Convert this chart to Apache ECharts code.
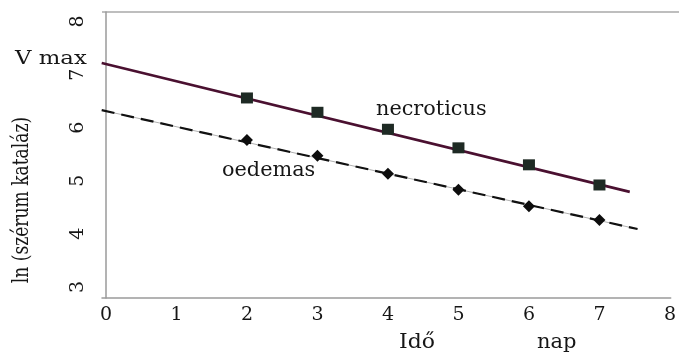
<!DOCTYPE html>
<html>
<head>
<meta charset="utf-8">
<script src="https://cdn.jsdelivr.net/npm/echarts@6/dist/echarts.min.js"></script>
<style>
  html, body { margin: 0; padding: 0; background: #fff; }
  #chart { width: 679px; height: 352px; }
</style>
</head>
<body>
<div id="chart"></div>
<script>
// Measurement days
const days = [2, 3, 4, 5, 6, 7];
// ln(serum catalase) values per group
const necroticus = [6.56, 6.29, 5.97, 5.62, 5.30, 4.92];
const oedemas = [5.77, 5.47, 5.13, 4.83, 4.52, 4.26];
// Fitted regression lines (start and end points, day / ln value)
const necroticusFitX = [-0.06, 7.43];
const necroticusFitY = [7.22, 4.79];
const oedemasFitX = [-0.06, 7.54];
const oedemasFitY = [6.33, 4.09];
// Tick labels
const xTicks = [0, 1, 2, 3, 4, 5, 6, 7, 8];
const yTicks = [3, 4, 5, 6, 7, 8];

const serif = 'DejaVu Serif';
const ink = '#161616';
const chart = echarts.init(document.getElementById('chart'), null, { renderer: 'canvas' });

const pairs = (xs, ys) => xs.map((x, i) => [x, ys[i]]);

// Free-standing text labels (slightly widened serif lettering)
function label(text, x, y, size, sx) {
  return {
    type: 'text', x: x, y: y, scaleX: sx || 1,
    style: { text: text, font: size + 'px "DejaVu Serif"', fill: ink, verticalAlign: 'top' }
  };
}

chart.setOption({
  animation: false,
  backgroundColor: '#ffffff',
  grid: { left: 102, right: 0, top: 12, bottom: 54, show: false },
  xAxis: {
    type: 'value',
    min: -0.056,
    max: 8.01,
    axisLine: { show: true, lineStyle: { color: '#9a9a9a', width: 1.5 } },
    axisTick: { show: false },
    splitLine: { show: false },
    axisLabel: {
      customValues: xTicks,
      color: ink,
      fontFamily: serif,
      fontSize: 19,
      margin: 8
    }
  },
  yAxis: {
    type: 'value',
    min: 2.79,
    max: 8.18,
    axisLine: { show: true, lineStyle: { color: '#9a9a9a', width: 1.5 } },
    axisTick: { show: false },
    splitLine: { show: false },
    axisLabel: {
      customValues: yTicks,
      rotate: 90,
      color: ink,
      fontFamily: serif,
      fontSize: 19,
      margin: 14
    }
  },
  graphic: [
    { type: 'line', shape: { x1: 102, y1: 12, x2: 679, y2: 12 }, style: { stroke: '#a8a8a8', lineWidth: 1.5 } },
    label('V max', 15, 50, 19, 1.2),
    label('necroticus', 376, 100, 20, 1.04),
    label('oedemas', 222, 161, 20, 1.04),
    label('Idő', 399, 333, 20, 1.1),
    label('nap', 537, 333, 20, 1.05),
    {
      type: 'text', x: 22, y: 200, rotation: Math.PI / 2, scaleX: 0.9, scaleY: 1.2,
      style: { text: 'ln (szérum kataláz)', font: '19px "DejaVu Serif"', fill: ink, align: 'center', verticalAlign: 'middle' }
    }
  ],
  series: [
    {
      name: 'necroticus fit',
      type: 'line',
      data: pairs(necroticusFitX, necroticusFitY),
      symbol: 'none',
      lineStyle: { color: '#4a1030', width: 2.6 },
      z: 2
    },
    {
      name: 'oedemas fit base',
      type: 'line',
      data: pairs(oedemasFitX, oedemasFitY),
      symbol: 'none',
      lineStyle: { color: '#b0b0b0', width: 1 },
      z: 2
    },
    {
      name: 'oedemas fit',
      type: 'line',
      data: pairs(oedemasFitX, oedemasFitY),
      symbol: 'none',
      lineStyle: { color: '#111111', width: 2.2, type: [13, 7] },
      z: 3
    },
    {
      name: 'necroticus',
      type: 'scatter',
      data: pairs(days, necroticus),
      symbol: 'rect',
      symbolSize: [12, 11],
      itemStyle: { color: '#1e2a24', opacity: 1 },
      z: 5
    },
    {
      name: 'oedemas',
      type: 'scatter',
      data: pairs(days, oedemas),
      symbol: 'diamond',
      symbolSize: [12, 12],
      itemStyle: { color: '#0d0d0d', opacity: 1 },
      z: 5
    }
  ]
});
</script>
</body>
</html>
